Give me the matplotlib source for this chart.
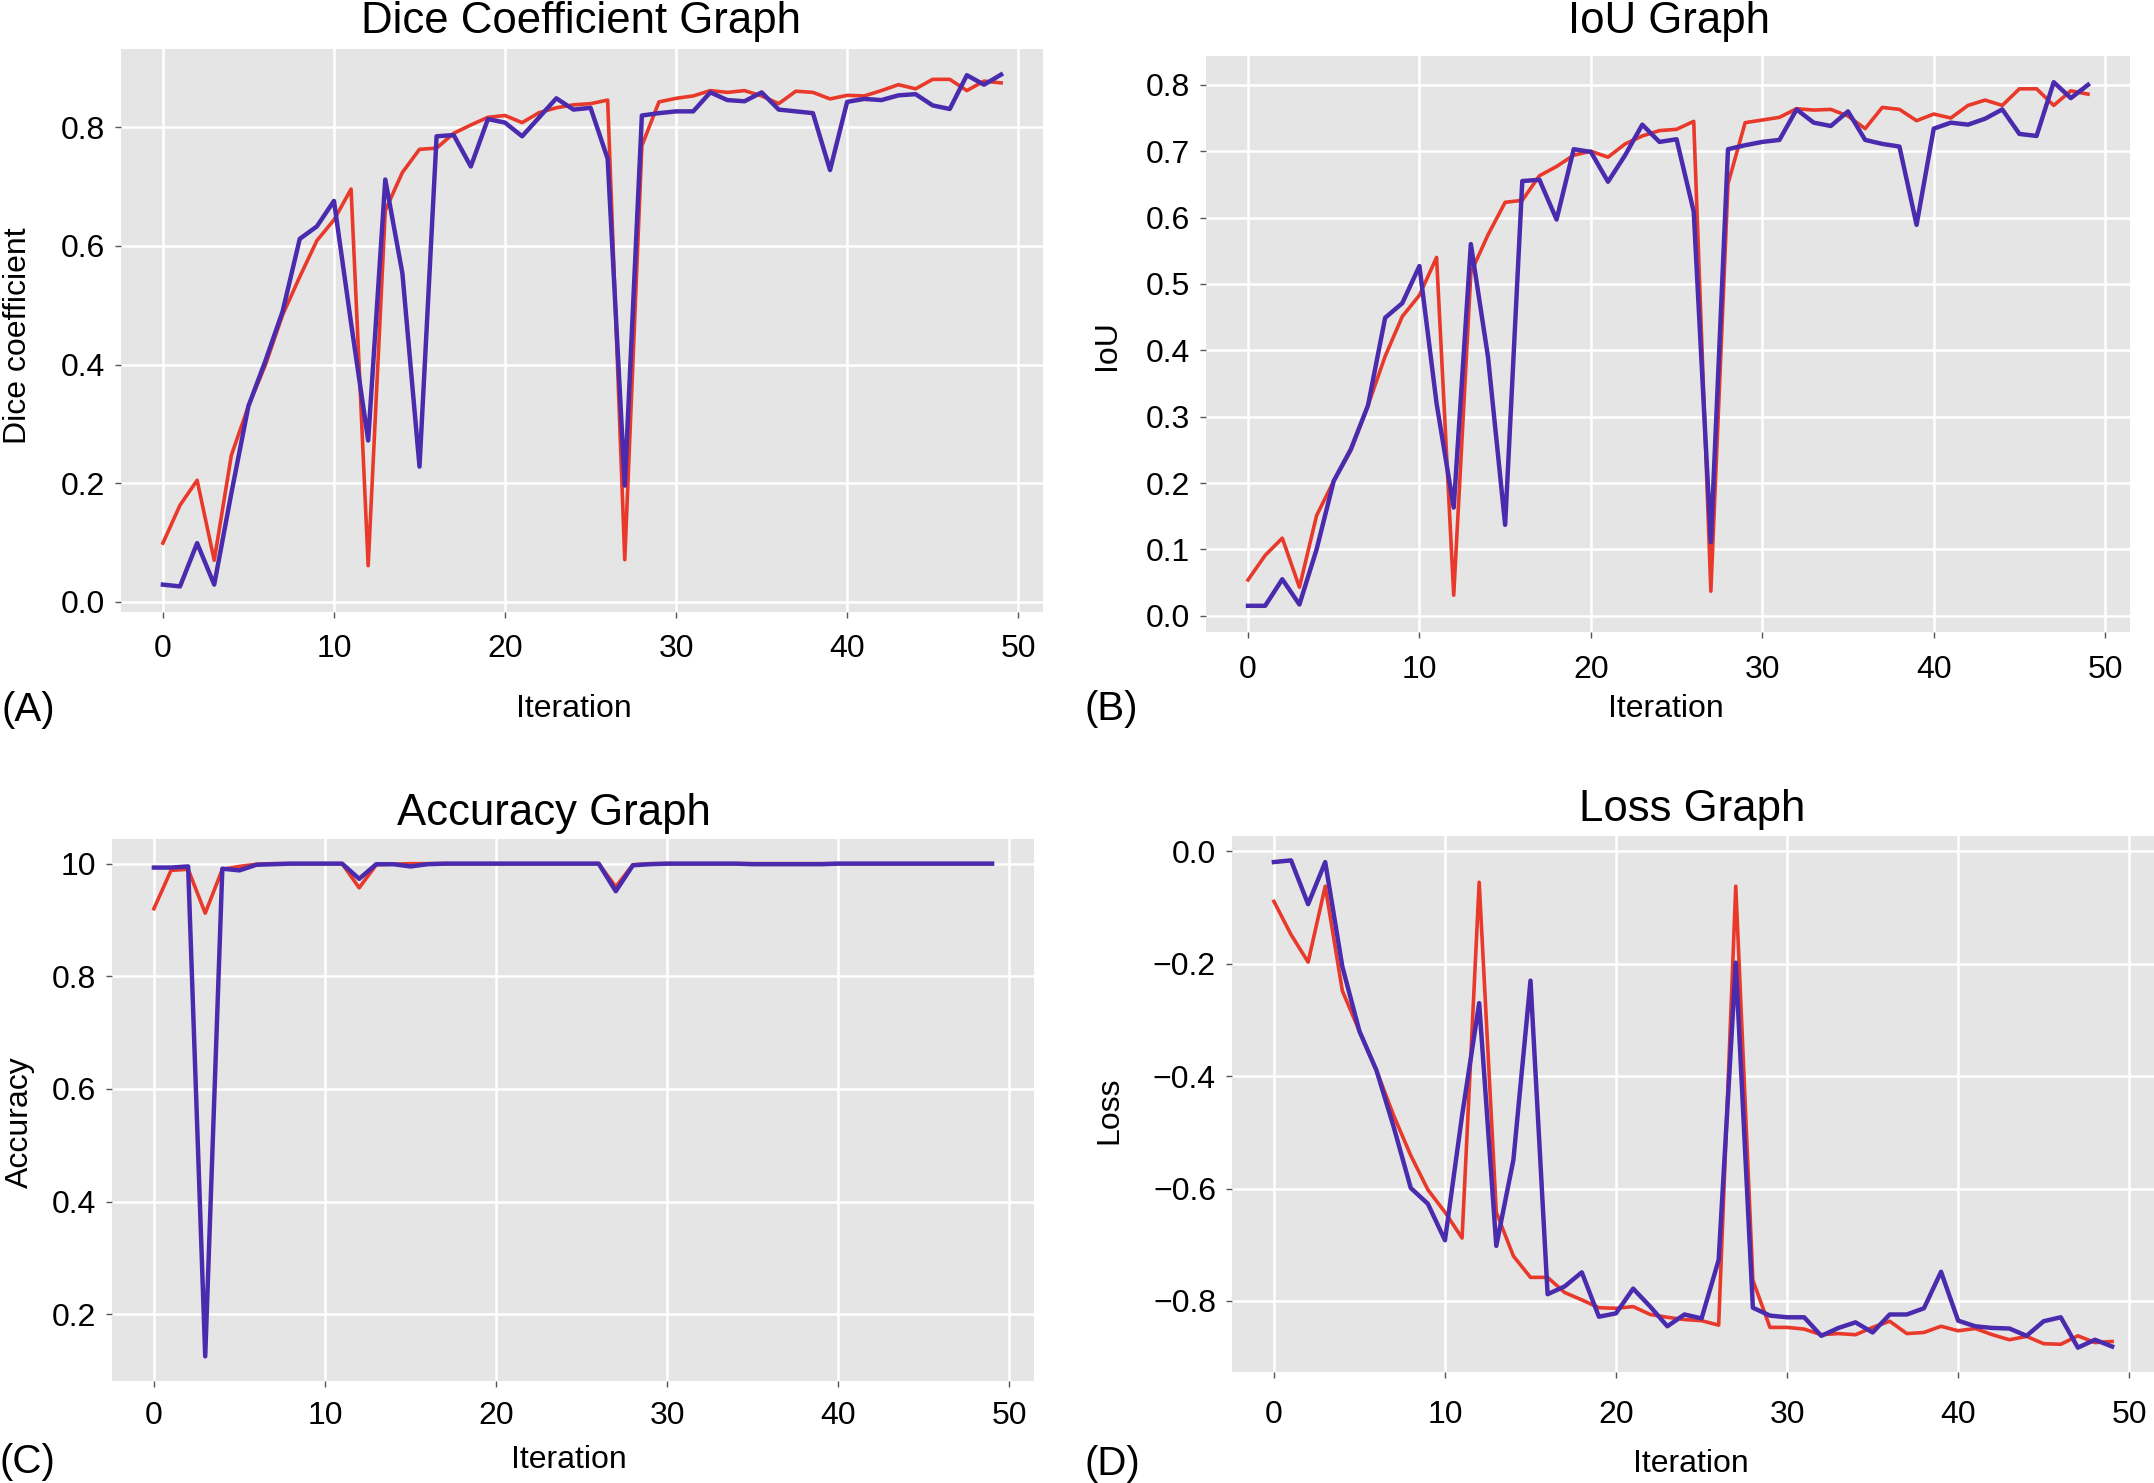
import numpy as np
import matplotlib
matplotlib.use('Agg')
import matplotlib.pyplot as plt

plt.rcParams['font.family'] = ['Liberation Sans', 'DejaVu Sans']

# ---- data ----
iters = np.arange(50)

dice_red = [0.099, 0.163, 0.205, 0.070, 0.247, 0.330, 0.400, 0.484, 0.548, 0.609,
            0.644, 0.696, 0.061, 0.660, 0.724, 0.763, 0.765, 0.790, 0.804, 0.817,
            0.820, 0.808, 0.825, 0.833, 0.838, 0.840, 0.846, 0.071, 0.769, 0.843,
            0.849, 0.853, 0.862, 0.859, 0.862, 0.853, 0.840, 0.861, 0.859, 0.848,
            0.854, 0.853, 0.862, 0.872, 0.865, 0.881, 0.881, 0.862, 0.878, 0.875]
dice_blue = [0.029, 0.026, 0.099, 0.029, 0.183, 0.330, 0.407, 0.490, 0.612, 0.633,
             0.676, 0.470, 0.272, 0.712, 0.554, 0.228, 0.785, 0.787, 0.734, 0.814,
             0.808, 0.785, 0.817, 0.849, 0.830, 0.833, 0.747, 0.196, 0.820, 0.824,
             0.827, 0.827, 0.859, 0.846, 0.844, 0.859, 0.830, 0.827, 0.824, 0.728,
             0.843, 0.848, 0.846, 0.854, 0.856, 0.837, 0.831, 0.888, 0.872, 0.889]

iou_red = [0.054, 0.091, 0.117, 0.043, 0.151, 0.203, 0.249, 0.317, 0.391, 0.451,
           0.483, 0.540, 0.031, 0.517, 0.574, 0.623, 0.626, 0.663, 0.677, 0.694,
           0.700, 0.691, 0.711, 0.723, 0.731, 0.733, 0.745, 0.037, 0.651, 0.743,
           0.747, 0.751, 0.764, 0.762, 0.763, 0.753, 0.734, 0.766, 0.763, 0.746,
           0.756, 0.750, 0.769, 0.777, 0.769, 0.794, 0.794, 0.769, 0.791, 0.786]
iou_blue = [0.015, 0.015, 0.055, 0.017, 0.100, 0.203, 0.251, 0.317, 0.449, 0.471,
            0.527, 0.320, 0.163, 0.560, 0.390, 0.137, 0.655, 0.657, 0.597, 0.703,
            0.699, 0.654, 0.694, 0.740, 0.714, 0.718, 0.609, 0.111, 0.703, 0.709,
            0.714, 0.717, 0.763, 0.743, 0.738, 0.760, 0.717, 0.711, 0.707, 0.589,
            0.734, 0.743, 0.740, 0.749, 0.763, 0.726, 0.723, 0.804, 0.780, 0.800]

acc_red = [0.920, 0.988, 0.990, 0.912, 0.990, 0.995, 0.999, 1.000, 1.000, 1.000,
           1.000, 1.000, 0.957, 0.998, 0.999, 1.000, 1.000, 1.000, 1.000, 1.000,
           1.000, 1.000, 1.000, 1.000, 1.000, 1.000, 1.000, 0.959, 0.998, 1.000,
           1.000, 1.000, 1.000, 1.000, 1.000, 1.000, 1.000, 1.000, 1.000, 1.000,
           1.000, 1.000, 1.000, 1.000, 1.000, 1.000, 1.000, 1.000, 1.000, 1.000]
acc_blue = [0.993, 0.993, 0.995, 0.125, 0.991, 0.988, 0.998, 0.999, 1.000, 1.000,
            1.000, 1.000, 0.973, 0.999, 0.999, 0.995, 0.999, 1.000, 1.000, 1.000,
            1.000, 1.000, 1.000, 1.000, 1.000, 1.000, 1.000, 0.951, 0.997, 0.999,
            1.000, 1.000, 1.000, 1.000, 1.000, 0.999, 0.999, 0.999, 0.999, 0.999,
            1.000, 1.000, 1.000, 1.000, 1.000, 1.000, 1.000, 1.000, 1.000, 1.000]

loss_red = [-0.089, -0.148, -0.197, -0.062, -0.248, -0.320, -0.390, -0.470, -0.541, -0.602,
            -0.642, -0.688, -0.055, -0.642, -0.720, -0.758, -0.758, -0.785, -0.798, -0.812,
            -0.813, -0.810, -0.824, -0.829, -0.833, -0.835, -0.843, -0.062, -0.763, -0.847,
            -0.847, -0.850, -0.860, -0.858, -0.860, -0.847, -0.836, -0.858, -0.856, -0.845,
            -0.853, -0.849, -0.860, -0.869, -0.863, -0.876, -0.877, -0.862, -0.874, -0.872]
loss_blue = [-0.019, -0.016, -0.094, -0.019, -0.205, -0.320, -0.390, -0.490, -0.599, -0.627,
             -0.692, -0.470, -0.270, -0.702, -0.549, -0.230, -0.788, -0.774, -0.749, -0.828,
             -0.822, -0.778, -0.810, -0.845, -0.824, -0.831, -0.727, -0.198, -0.812, -0.826,
             -0.829, -0.829, -0.862, -0.848, -0.838, -0.856, -0.824, -0.824, -0.813, -0.748,
             -0.835, -0.845, -0.848, -0.849, -0.862, -0.836, -0.829, -0.883, -0.869, -0.881]

xticks = [0, 10, 20, 30, 40, 50]
RED = '#E8392B'
BLUE = '#4A2BAE'

W, H = 2154, 1483
fig = plt.figure(figsize=(W / 100, H / 100), dpi=100)

def px_rect(l, t, r, b):
    return [l / W, 1 - b / H, (r - l) / W, (b - t) / H]

def txt(x, y, s, **kw):
    fig.text(x / W, 1 - y / H, s, ha='center', va='center', **kw)

panels = [
    # rect (l, t, r, b), red, blue, yticks, yticklabels, x label pad
    ((121, 49, 1043, 612), dice_red, dice_blue, [0, 0.2, 0.4, 0.6, 0.8],
     ['0.0', '0.2', '0.4', '0.6', '0.8'], 11),
    ((1206, 56, 2130, 632), iou_red, iou_blue, [0, .1, .2, .3, .4, .5, .6, .7, .8],
     ['0.0', '0.1', '0.2', '0.3', '0.4', '0.5', '0.6', '0.7', '0.8'], 12),
    ((112, 839, 1034, 1381), acc_red, acc_blue, [0.2, 0.4, 0.6, 0.8, 1.0],
     ['0.2', '0.4', '0.6', '0.8', '10'], 10),
    ((1232, 836, 2154, 1372), loss_red, loss_blue, [-0.8, -0.6, -0.4, -0.2, 0.0],
     ['\u22120.8', '\u22120.6', '\u22120.4', '\u22120.2', '0.0'], 16),
]

for rect, red, blue, yt, ytl, xpad in panels:
    ax = fig.add_axes(px_rect(*rect))
    ax.set_facecolor('#E5E5E5')
    ax.plot(iters, red, color=RED, linewidth=2.6, zorder=3)
    ax.plot(iters, blue, color=BLUE, linewidth=3.2, zorder=4)
    ax.set_xticks(xticks)
    ax.set_yticks(yt)
    ax.set_yticklabels(ytl)
    ax.grid(True, color='white', linewidth=1.8)
    ax.set_axisbelow(True)
    for s in ax.spines.values():
        s.set_visible(False)
    ax.tick_params(axis='both', direction='out', length=4.5, width=1.0,
                   color='#555555', labelsize=23, labelcolor='black', pad=7)
    ax.tick_params(axis='x', pad=xpad)

# titles
txt(581, 22, 'Dice Coefficient Graph', fontsize=31.5)
txt(1669, 22, 'IoU Graph', fontsize=31.5)
txt(554, 814, 'Accuracy Graph', fontsize=31.5)
txt(1692, 810, 'Loss Graph', fontsize=31.5)

# x labels
txt(574, 709, 'Iteration', fontsize=23)
txt(1666, 709, 'Iteration', fontsize=23)
txt(569, 1460, 'Iteration', fontsize=23)
txt(1691, 1464, 'Iteration', fontsize=23)

# y labels
txt(18, 336, 'Dice coefficient', fontsize=23, rotation=90)
txt(1107, 345, 'IoU', fontsize=23, rotation=90)
txt(20, 1122, 'Accuracy', fontsize=23, rotation=90)
txt(1109, 1110, 'Loss', fontsize=23, rotation=90)

# panel letters
txt(28, 710, '(A)', fontsize=29)
txt(1111, 709, '(B)', fontsize=29)
txt(27, 1462, '(C)', fontsize=29)
txt(1112, 1464, '(D)', fontsize=29)

fig.savefig('out.png', dpi=100)
